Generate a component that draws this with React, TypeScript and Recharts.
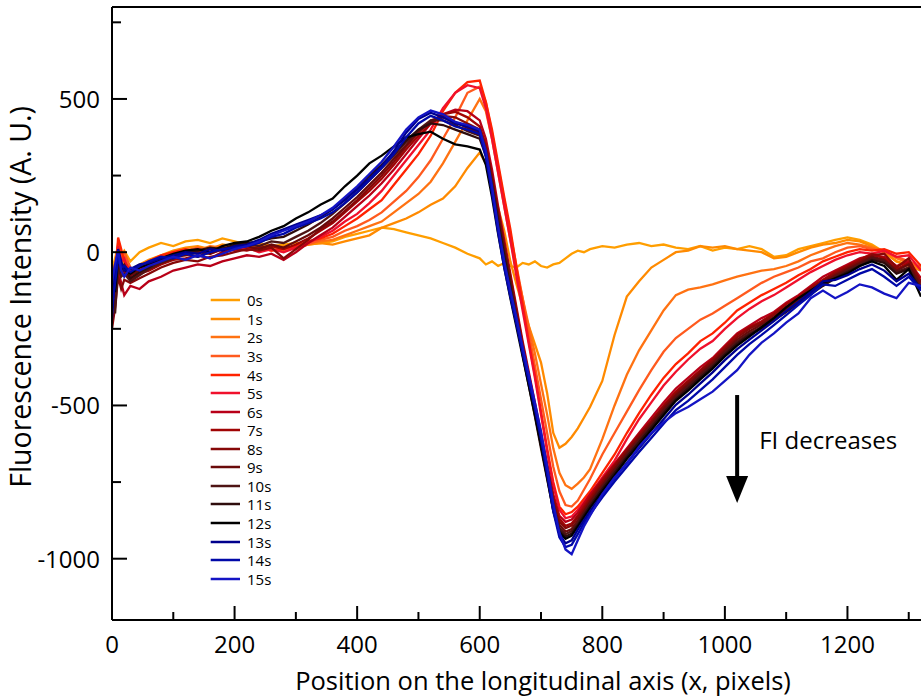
import React from 'react';
import { LineChart, Line, XAxis, YAxis, ReferenceLine, ReferenceDot, Legend } from 'recharts';

const positions = [0,5,10,15,20,30,45,60,80,100,
 120,140,160,180,200,220,240,260,280,300,
 320,340,360,380,400,420,440,460,480,500,
 520,540,560,580,600,610,620,630,640,650,
 660,670,680,690,700,710,720,730,740,750,
 760,770,780,800,820,840,860,880,900,920,
 940,960,980,1000,1020,1040,1060,1080,1100,1120,
 1140,1160,1180,1200,1220,1240,1260,1280,1300,1320];

const s0 = [-60,-20,20,-10,5,-30,0,15,30,20,
 35,40,30,45,35,25,30,20,25,30,
 25,30,35,50,60,70,80,75,65,55,
 45,30,15,-5,-20,-40,-30,-45,-35,-45,
 -50,-35,-40,-30,-45,-50,-40,-35,-20,-5,
 5,0,10,20,15,25,30,20,25,15,
 10,20,5,15,10,20,10,-15,-10,10,
 20,30,40,48,40,25,0,-30,-40,-55];
const s1 = [-180,-90,-30,-50,-20,-60,-40,-25,-10,5,
 15,20,10,25,20,15,25,10,20,15,
 25,30,25,35,45,55,80,95,110,130,
 155,175,215,275,325,290,220,145,70,-30,
 -105,-175,-240,-300,-360,-460,-590,-638,-625,-603,
 -575,-540,-505,-420,-270,-145,-95,-50,-25,0,
 5,20,15,20,10,5,0,-20,-15,0,
 15,25,30,40,35,20,0,-30,-45,-60];
const s2 = [-120,-60,10,-40,-10,-70,-50,-30,-15,0,
 10,5,20,15,25,10,20,15,5,20,
 30,35,40,55,70,85,100,130,160,190,
 230,290,360,430,500,460,370,260,150,40,
 -60,-150,-240,-330,-430,-530,-640,-720,-760,-772,
 -755,-735,-708,-610,-500,-400,-320,-255,-190,-140,
 -122,-115,-105,-92,-80,-70,-60,-55,-45,-30,
 -10,5,20,30,25,15,5,-20,-35,-55];
const s3 = [-150,-40,30,-20,0,-50,-60,-35,-20,-10,
 5,15,5,20,10,25,15,5,15,10,
 25,40,50,70,85,105,130,165,200,245,
 300,370,440,520,540,490,390,280,170,60,
 -45,-150,-260,-370,-480,-590,-700,-780,-825,-830,
 -810,-775,-740,-660,-590,-520,-450,-385,-325,-280,
 -250,-220,-200,-175,-150,-125,-100,-80,-65,-50,
 -30,-20,0,15,20,10,0,-15,-30,-50];
const s4 = [-200,-100,48,10,-30,-60,-45,-30,-10,0,
 10,0,15,5,20,10,15,5,10,20,
 35,45,60,85,110,140,170,220,270,320,
 380,460,520,555,560,490,400,290,180,75,
 -50,-170,-290,-400,-520,-640,-750,-830,-855,-848,
 -830,-805,-780,-720,-660,-590,-525,-465,-410,-365,
 -330,-290,-265,-230,-190,-165,-140,-120,-100,-75,
 -55,-30,-15,0,10,5,10,-5,0,-45];
const s5 = [-130,-70,20,-30,-20,-80,-55,-40,-25,-5,
 0,10,-5,10,5,15,0,10,0,15,
 30,50,70,100,125,160,200,250,300,350,
 400,470,520,545,535,470,370,260,150,40,
 -80,-190,-300,-410,-530,-650,-760,-840,-868,-862,
 -840,-815,-790,-735,-680,-610,-545,-490,-435,-390,
 -350,-315,-290,-250,-215,-185,-160,-140,-115,-90,
 -65,-45,-25,-10,0,-5,5,-15,-10,-60];
const s6 = [-90,-150,-60,-100,-140,-110,-120,-95,-80,-60,
 -50,-40,-45,-30,-20,-10,-15,-5,-25,0,
 30,55,80,115,150,185,225,270,320,370,
 420,450,465,460,430,370,270,150,40,-70,
 -180,-290,-390,-490,-590,-690,-790,-860,-880,-872,
 -850,-820,-790,-740,-690,-640,-590,-540,-490,-445,
 -410,-375,-345,-305,-265,-240,-215,-195,-165,-140,
 -110,-80,-60,-40,-20,-10,-15,-45,-30,-85];
const s7 = [-40,-120,-30,-70,-60,-90,-70,-60,-40,-25,
 -20,-10,-20,0,10,5,15,20,10,25,
 45,70,95,130,165,200,240,285,335,380,
 420,450,458,440,410,350,250,135,25,-80,
 -190,-300,-400,-500,-600,-700,-800,-870,-893,-885,
 -860,-830,-800,-745,-695,-645,-595,-550,-500,-455,
 -420,-385,-350,-310,-270,-245,-225,-200,-170,-145,
 -115,-90,-65,-45,-25,-5,-20,-55,-35,-95];
const s8 = [-250,-180,-80,-120,-90,-100,-85,-70,-50,-35,
 -25,-30,-15,-10,0,10,5,15,-20,10,
 40,75,100,135,170,210,250,295,345,390,
 430,445,440,420,400,345,245,130,20,-85,
 -195,-305,-405,-505,-610,-710,-810,-880,-900,-892,
 -866,-838,-808,-752,-700,-648,-600,-553,-505,-462,
 -425,-390,-355,-315,-278,-250,-230,-205,-178,-150,
 -120,-95,-70,-50,-30,-10,-5,-50,-20,-100];
const s9 = [-160,-60,-20,-50,-40,-75,-60,-45,-30,-15,
 -10,0,-5,10,15,20,10,25,15,35,
 55,80,110,145,180,220,260,305,350,395,
 425,440,425,405,390,335,235,120,10,-95,
 -205,-315,-415,-515,-620,-720,-820,-890,-912,-903,
 -876,-846,-815,-760,-708,-655,-607,-560,-512,-468,
 -432,-396,-362,-322,-285,-258,-236,-212,-185,-157,
 -128,-100,-75,-55,-35,-15,-25,-60,-40,-110];
const s10 = [-100,-200,-50,-80,-70,-95,-75,-55,-35,-20,
 -5,-15,0,15,10,25,20,35,30,50,
 70,95,125,160,195,235,275,315,360,400,
 430,430,415,395,380,325,225,110,0,-105,
 -215,-325,-425,-525,-630,-730,-830,-900,-920,-910,
 -884,-852,-822,-766,-714,-662,-614,-566,-518,-475,
 -438,-402,-368,-328,-292,-265,-243,-218,-190,-162,
 -132,-105,-80,-60,-40,-20,-30,-65,-50,-120];
const s11 = [-140,-90,-10,-60,-50,-85,-65,-50,-25,-10,
 0,5,15,10,25,30,35,45,50,70,
 90,115,140,175,210,250,285,325,365,400,
 420,415,400,385,370,315,215,100,-10,-115,
 -225,-335,-435,-535,-640,-740,-840,-908,-928,-918,
 -890,-858,-828,-772,-720,-668,-620,-572,-525,-480,
 -445,-408,-374,-334,-298,-270,-248,-222,-195,-167,
 -137,-110,-85,-65,-45,-25,-35,-70,-55,-125];
const s12 = [-60,-130,-20,-40,-55,-70,-50,-40,-20,-5,
 5,10,0,20,30,35,50,70,85,110,
 130,155,175,215,250,290,315,345,375,385,
 393,370,352,345,335,285,180,60,-50,-150,
 -245,-340,-435,-530,-630,-735,-845,-915,-935,-925,
 -895,-865,-835,-780,-728,-675,-628,-580,-532,-485,
 -452,-415,-380,-340,-305,-275,-245,-215,-180,-150,
 -125,-100,-85,-70,-45,-30,-45,-90,-55,-145];
const s13 = [-220,-60,10,-30,-60,-55,-40,-35,-20,-10,
 0,-5,10,5,20,25,40,60,75,90,
 105,120,140,170,205,240,280,330,390,435,
 455,440,420,410,395,320,205,75,-40,-135,
 -225,-320,-410,-500,-600,-715,-835,-920,-950,-940,
 -905,-875,-845,-790,-738,-688,-640,-592,-545,-498,
 -465,-428,-392,-352,-316,-285,-255,-225,-192,-162,
 -130,-95,-90,-75,-55,-40,-60,-95,-70,-120];
const s14 = [-180,-100,-20,-50,-45,-65,-45,-30,-15,-20,
 -5,-15,0,10,15,20,30,50,60,80,
 95,110,130,160,195,235,275,320,375,420,
 445,430,410,400,385,310,195,65,-50,-145,
 -235,-330,-420,-510,-610,-725,-845,-930,-962,-955,
 -920,-885,-855,-800,-748,-700,-652,-606,-560,-515,
 -485,-450,-415,-375,-335,-300,-270,-238,-205,-172,
 -140,-105,-110,-90,-70,-55,-80,-110,-80,-125];
const s15 = [-100,-40,5,-60,-80,-50,-60,-45,-30,-15,
 -25,-10,-20,-5,10,20,35,55,70,85,
 100,120,145,180,215,255,295,345,400,440,
 462,450,425,415,400,330,215,85,-30,-125,
 -215,-310,-400,-490,-585,-700,-820,-915,-970,-985,
 -940,-895,-860,-790,-735,-690,-635,-590,-555,-525,
 -505,-480,-455,-420,-385,-335,-295,-265,-230,-200,
 -150,-125,-150,-130,-105,-115,-135,-150,-100,-110];

const seriesNames = ['0s','1s','2s','3s','4s','5s','6s','7s','8s','9s','10s','11s','12s','13s','14s','15s'];
const seriesColors = ['#FF9E00','#FF8A00','#FF7212','#FF5A1E','#FF2200','#F0102C','#B80018','#A00404','#860808','#6A0A0A','#4E1414','#2E0C0C','#000000','#00008C','#0008A8','#1414C4'];
const seriesValues = [s0,s1,s2,s3,s4,s5,s6,s7,s8,s9,s10,s11,s12,s13,s14,s15];

const xTicks = [0,100,200,300,400,500,600,700,800,900,1000,1100,1200,1300];
const xLabelled = [0,200,400,600,800,1000,1200];
const yTicks = [-1000,-750,-500,-250,0,250,500,750];
const yLabelled = [-1000,-500,0,500];

const xTitle = 'Position on the longitudinal axis (x, pixels)';
const yTitle = 'Fluorescence Intensity (A. U.)';
const annotation = 'FI decreases';
const arrowX = 1020;
const arrowTop = -466;
const arrowBase = -735;
const arrowTip = -818;
const noteX = 1056;
const noteY = -642;

const data = positions.map((x, i) => {
  const row: any = { x };
  seriesValues.forEach((s, k) => { row['s' + k] = s[i]; });
  return row;
});

const FONT = "'Open Sans', sans-serif";

const XTick = (props: any) => {
  const { x, y, payload } = props;
  const v = payload.value;
  const major = xLabelled.includes(v);
  return (
    <g>
      <line x1={x} x2={x} y1={y} y2={y - (major ? 14 : 8)} stroke="#000" strokeWidth={2} />
      {major && (
        <text x={x} y={y + 33} textAnchor="middle" fontFamily={FONT} fontSize={24} fill="#000">{v}</text>
      )}
    </g>
  );
};

const YTick = (props: any) => {
  const { x, y, payload } = props;
  const v = payload.value;
  const major = yLabelled.includes(v);
  return (
    <g>
      <line x1={x} x2={x + (major ? 15 : 9)} y1={y} y2={y} stroke="#000" strokeWidth={2} />
      {major && (
        <text x={x - 12} y={y + 9} textAnchor="end" fontFamily={FONT} fontSize={24} fill="#000">{v}</text>
      )}
    </g>
  );
};

const XTitle = () => (
  <text x={543} y={690} textAnchor="middle" fontFamily={FONT} fontSize={25.5} fill="#000">{xTitle}</text>
);
const YTitle = () => (
  <text x={31} y={297} transform="rotate(-90, 31, 297)" textAnchor="middle" fontFamily={FONT} fontSize={28.5} fill="#000">{yTitle}</text>
);

const renderLegend = () => (
  <div style={{ fontFamily: FONT, fontSize: 15, color: '#000' }}>
    {seriesNames.map((n, i) => (
      <div key={n} style={{ height: 18.57, display: 'flex', alignItems: 'center' }}>
        <svg width={42} height={4} style={{ display: 'block' }}>
          <line x1={5.7} x2={35} y1={2} y2={2} stroke={seriesColors[i]} strokeWidth={2.5} />
        </svg>
        <span style={{ lineHeight: '18px' }}>{n}</span>
      </div>
    ))}
  </div>
);

export default function App() {
  return (
    <div style={{ position: 'absolute', left: 0, top: 0, background: '#fff' }}>
      <LineChart width={922} height={698} data={data} margin={{ top: 7, right: 1, bottom: 0, left: 0 }}>
        <XAxis dataKey="x" type="number" domain={[0, 1320]} ticks={xTicks} interval={0} height={78}
          tickSize={0} tickMargin={0} tick={<XTick />} axisLine={{ stroke: '#000', strokeWidth: 2 }}
          tickLine={false} allowDataOverflow label={<XTitle />} />
        <YAxis type="number" domain={[-1200, 800]} ticks={yTicks} interval={0} width={112}
          tickSize={0} tickMargin={0} tick={<YTick />} axisLine={{ stroke: '#000', strokeWidth: 2 }}
          tickLine={false} allowDataOverflow label={<YTitle />} />
        <ReferenceLine y={800} stroke="#000" strokeWidth={2} />
        {seriesValues.map((_, k) => (
          <Line key={k} type="linear" dataKey={'s' + k} name={seriesNames[k]} stroke={seriesColors[k]}
            strokeWidth={2.3} dot={false} activeDot={false} isAnimationActive={false} />
        ))}
        <ReferenceLine segment={[{ x: arrowX, y: arrowTop }, { x: arrowX, y: arrowBase }]} stroke="#000" strokeWidth={4} />
        <ReferenceDot x={arrowX} y={arrowTip} r={1}
          shape={(p: any) => (
            <polygon points={`${p.cx - 11},${p.cy - 27} ${p.cx + 11},${p.cy - 27} ${p.cx},${p.cy}`} fill="#000" />
          )} />
        <ReferenceDot x={noteX} y={noteY} r={1}
          shape={(p: any) => (
            <text x={p.cx} y={p.cy} fontFamily={FONT} fontSize={24} fill="#000">{annotation}</text>
          )} />
        <Legend layout="vertical" align="center" verticalAlign="middle" content={renderLegend}
          wrapperStyle={{ left: 205, top: 291, width: 110 }} />
      </LineChart>
    </div>
  );
}
